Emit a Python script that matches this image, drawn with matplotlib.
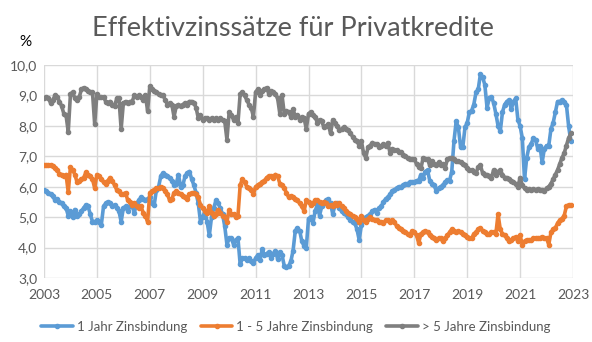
import matplotlib
matplotlib.use("Agg")
import matplotlib.pyplot as plt
import numpy as np

plt.rcParams['font.family'] = ['Lato', 'DejaVu Sans']

title = "Effektivzinssätze für Privatkredite"
series_labels = ["1 Jahr Zinsbindung", "1 - 5 Jahre Zinsbindung", "> 5 Jahre Zinsbindung"]
start_year = 2003
x_ticks = list(range(2003, 2024, 2))
y_ticks = [3, 4, 5, 6, 7, 8, 9, 10]

# monthly values Jan 2003 - Dec 2022 (one row per year)
zins_1j = [
    5.9, 5.85, 5.8, 5.75, 5.7, 5.55, 5.6, 5.5, 5.45, 5.35, 5.3, 5.05,
    5.2, 5.0, 5.25, 5.05, 5.1, 5.2, 5.3, 5.4, 5.35, 5.1, 4.85, 4.85,
    4.9, 4.85, 4.75, 5.35, 5.45, 5.5, 5.45, 5.35, 5.4, 5.3, 5.2, 4.85,
    5.3, 5.35, 5.2, 5.35, 5.35, 5.15, 5.45, 5.55, 5.65, 5.6, 5.55, 5.6,
    5.65, 5.45, 5.4, 5.9, 6.0, 6.35, 6.45, 6.4, 6.35, 6.3, 6.2, 6.05,
    6.1, 6.4, 6.0, 6.05, 6.35, 6.45, 6.5, 6.25, 6.05, 5.8, 5.45, 4.85,
    5.0, 5.2, 4.85, 4.4, 5.0, 5.3, 5.55, 5.45, 5.3, 5.1, 4.7, 4.1,
    4.3, 4.3, 4.1, 4.25, 4.3, 3.45, 3.65, 3.65, 3.6, 3.65, 3.55, 3.5,
    3.65, 3.75, 3.6, 3.95, 3.75, 3.8, 3.85, 3.65, 3.8, 3.9, 3.62, 3.85,
    3.75, 3.4, 3.35, 3.4, 3.55, 3.9, 4.55, 4.65, 4.55, 4.2, 4.05, 4.0,
    4.95, 5.0, 4.8, 5.2, 5.4, 5.05, 5.35, 5.45, 5.55, 5.6, 5.45, 5.1,
    5.4, 5.45, 5.3, 5.2, 5.15, 5.1, 5.0, 4.9, 4.85, 4.8, 4.6, 4.25,
    4.75, 4.9, 5.0, 5.05, 5.1, 5.2, 5.25, 5.15, 5.3, 5.35, 5.5, 5.6,
    5.65, 5.75, 5.85, 5.9, 5.95, 6.0, 6.0, 6.05, 6.1, 6.1, 6.15, 6.15,
    6.15, 6.2, 6.2, 6.4, 6.3, 6.5, 6.55, 6.2, 6.1, 6.05, 5.85, 5.95,
    6.0, 6.05, 6.15, 6.22, 6.2, 6.5, 7.5, 8.15, 7.95, 7.3, 7.3, 7.95,
    8.1, 8.45, 8.5, 8.7, 9.1, 9.2, 9.7, 9.6, 9.35, 8.6, 8.9, 8.95,
    8.75, 8.4, 8.0, 7.82, 8.45, 8.7, 8.8, 8.85, 8.55, 8.8, 8.9, 8.2,
    8.0, 7.6, 6.25, 6.95, 7.3, 7.4, 7.6, 7.55, 7.25, 7.35, 6.8, 7.25,
    7.35, 7.35, 7.9, 8.1, 8.45, 8.8, 8.8, 8.85, 8.8, 8.7, 8.0, 7.5,
]

zins_1_5j = [
    6.72, 6.72, 6.7, 6.72, 6.68, 6.6, 6.55, 6.42, 6.4, 6.35, 6.4, 5.82,
    6.65, 6.55, 6.4, 6.15, 6.2, 6.25, 6.3, 6.47, 6.4, 6.35, 6.25, 5.95,
    6.4, 6.35, 6.25, 6.15, 6.1, 6.2, 6.3, 6.2, 6.05, 5.9, 5.85, 5.75,
    5.75, 5.8, 5.55, 5.5, 5.4, 5.45, 5.35, 5.3, 5.35, 5.15, 5.05, 4.85,
    5.8, 5.85, 5.9, 5.95, 5.95, 6.0, 5.95, 5.85, 5.75, 5.55, 5.6, 5.8,
    5.85, 5.8, 5.75, 5.7, 5.65, 5.6, 5.75, 5.8, 5.8, 5.75, 5.65, 5.4,
    5.3, 5.2, 5.15, 5.35, 5.15, 5.05, 5.1, 5.25, 5.15, 5.05, 5.0, 4.85,
    5.25, 5.1, 5.1, 5.0, 5.05, 6.05, 6.25, 6.15, 6.0, 5.95, 5.9, 5.75,
    6.0, 6.05, 6.1, 6.15, 6.2, 6.3, 6.35, 6.35, 6.3, 6.4, 6.35, 6.1,
    6.05, 5.95, 5.8, 5.65, 5.7, 5.65, 5.6, 5.55, 5.45, 5.35, 5.2, 5.55,
    5.5, 5.4, 5.45, 5.55, 5.55, 5.5, 5.45, 5.5, 5.45, 5.35, 5.4, 5.35,
    5.45, 5.4, 5.45, 5.35, 5.3, 5.2, 5.15, 5.1, 5.05, 5.0, 4.95, 4.85,
    5.05, 4.9, 4.85, 4.95, 5.0, 4.95, 4.9, 4.9, 4.85, 4.85, 4.8, 4.9,
    4.9, 4.85, 4.9, 4.85, 4.7, 4.65, 4.6, 4.55, 4.5, 4.45, 4.4, 4.55,
    4.5, 4.4, 4.15, 4.45, 4.5, 4.55, 4.5, 4.4, 4.35, 4.3, 4.25, 4.3,
    4.3, 4.2, 4.3, 4.4, 4.5, 4.6, 4.55, 4.5, 4.55, 4.5, 4.45, 4.4,
    4.35, 4.3, 4.3, 4.45, 4.5, 4.6, 4.65, 4.55, 4.5, 4.45, 4.45, 4.5,
    4.5, 4.45, 5.1, 4.6, 4.45, 4.4, 4.3, 4.2, 4.25, 4.3, 4.35, 4.2,
    4.4, 4.1, 4.2, 4.25, 4.25, 4.25, 4.3, 4.3, 4.3, 4.3, 4.35, 4.3,
    4.3, 4.1, 4.5, 4.6, 4.65, 4.8, 4.9, 4.95, 5.05, 5.35, 5.4, 5.4,
]

zins_gt5j = [
    8.9, 8.95, 8.9, 8.75, 8.85, 9.0, 8.95, 8.8, 8.65, 8.4, 8.35, 7.8,
    9.05, 9.1, 8.9, 8.85, 8.95, 9.2, 9.25, 9.2, 9.15, 9.1, 9.1, 8.05,
    9.05, 8.95, 8.95, 8.95, 8.8, 8.75, 8.8, 8.7, 8.65, 8.9, 8.9, 7.9,
    8.75, 8.8, 8.75, 8.8, 8.8, 9.0, 8.95, 9.0, 8.95, 8.85, 9.0, 8.5,
    9.3, 9.2, 9.15, 9.1, 9.05, 9.0, 9.0, 8.85, 8.7, 8.75, 8.7, 8.3,
    8.65, 8.7, 8.65, 8.7, 8.75, 8.7, 8.8, 8.8, 8.75, 8.6, 8.25, 8.35,
    8.2, 8.25, 8.25, 8.2, 8.25, 8.2, 8.25, 8.2, 8.25, 8.2, 8.15, 7.55,
    8.45, 8.35, 8.2, 8.3, 8.1, 9.05, 9.1, 9.0, 8.85, 8.7, 8.6, 8.3,
    9.1, 9.2, 9.0, 9.15, 9.2, 9.25, 9.05, 9.15, 9.1, 9.05, 8.9, 8.4,
    9.0, 8.4, 8.5, 8.45, 8.3, 8.55, 8.3, 8.35, 8.2, 8.3, 8.25, 7.9,
    8.4, 8.45, 8.35, 8.3, 8.1, 8.2, 8.15, 7.95, 8.0, 8.05, 7.75, 8.2,
    8.1, 8.0, 7.85, 7.9, 7.95, 7.9, 7.85, 7.75, 7.65, 7.55, 7.5, 7.35,
    7.5, 7.1, 6.95, 7.3, 7.35, 7.45, 7.4, 7.4, 7.3, 7.35, 7.4, 7.35,
    7.45, 7.1, 7.25, 7.2, 7.2, 7.15, 7.15, 7.05, 7.0, 6.95, 6.9, 6.9,
    6.9, 6.75, 6.65, 6.6, 6.95, 6.9, 6.9, 6.7, 6.85, 6.75, 6.7, 6.8,
    6.7, 6.75, 6.62, 6.9, 6.95, 6.95, 6.9, 6.85, 6.85, 6.8, 6.75, 6.7,
    6.6, 6.55, 6.55, 6.5, 6.45, 6.65, 6.7, 6.45, 6.4, 6.4, 6.35, 6.3,
    6.55, 6.4, 6.5, 6.55, 6.4, 6.3, 6.3, 6.25, 6.2, 6.15, 6.1, 6.0,
    6.3, 6.05, 5.95, 5.9, 5.92, 5.9, 5.92, 5.9, 5.92, 5.9, 5.88, 5.85,
    5.95, 6.0, 6.1, 6.25, 6.4, 6.55, 6.75, 6.95, 7.1, 7.35, 7.6, 7.75,
]

colors = ["#5B9BD5", "#ED7D31", "#7F7F7F"]
text_color = "#595959"

fig = plt.figure(figsize=(5.92, 3.42), dpi=100)
ax = fig.add_axes([44 / 592, 1 - 278 / 342, (573 - 44) / 592, (278 - 65) / 342])

n = len(zins_1j)
x = start_year + np.arange(n) / 12.0
for vals, c, lab in zip([zins_1j, zins_1_5j, zins_gt5j], colors, series_labels):
    ax.plot(x, vals, color=c, lw=2.6, marker='o', ms=3.0, mfc=c, mec=c,
            label=lab, solid_joinstyle='round', solid_capstyle='round')

ax.set_xlim(2003, 2023)
ax.set_ylim(3, 10)
ax.set_xticks(x_ticks)
ax.set_xticklabels([str(t) for t in x_ticks])
ax.set_yticks(y_ticks)
ax.set_yticklabels([f"{v:.1f}".replace('.', ',') for v in y_ticks])
ax.grid(True, color='#d9d9d9', lw=1.0)
ax.set_axisbelow(True)
for s in ax.spines.values():
    s.set_visible(False)
ax.tick_params(length=0, colors=text_color, labelsize=10)
ax.tick_params(axis='y', pad=5)
ax.tick_params(axis='x', pad=8)

fig.text(25 / 592, 1 - 42 / 342, "%", ha='center', va='center', fontsize=11, color='black')
fig.text(293 / 592, 1 - 29 / 342, title, ha='center', va='center', fontsize=19.5, color=text_color)

fig.legend(loc='center', bbox_to_anchor=(0.5, 1 - 327 / 342), ncol=3, frameon=False,
           fontsize=9.5, handlelength=2.4, handletextpad=0.3, columnspacing=1.0,
           labelcolor=text_color)

fig.savefig("out.png", dpi=100)
